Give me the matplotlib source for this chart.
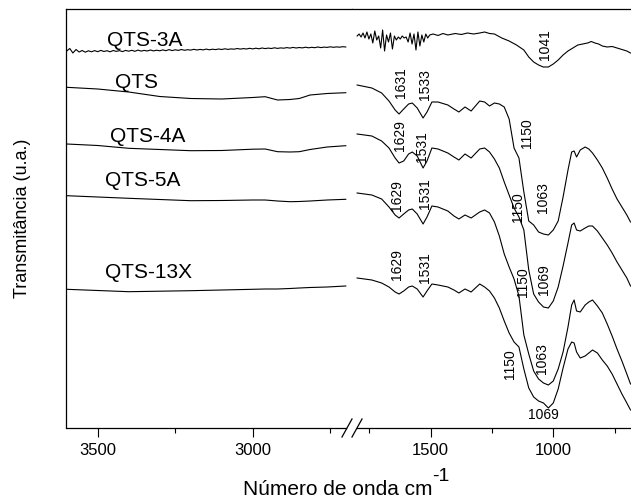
import numpy as np
import matplotlib
matplotlib.use("Agg")
import matplotlib.pyplot as plt
from matplotlib.lines import Line2D

plt.rcParams['font.family'] = ['Liberation Sans', 'DejaVu Sans']

# ---- high wavenumber part (3600-2700 cm-1), transmittance in u.a.
wn_hi = [3600, 3500, 3400, 3300, 3200, 3100, 3000, 2960, 2920, 2880, 2850, 2815, 2760, 2700]
qts_hi = [340.7, 339, 336, 331.5, 329.5, 329, 330.5, 331.3, 328, 328.5, 329.5, 333, 334.5, 335.3]
qts4a_hi = [284, 282.5, 279.7, 278.5, 277.3, 277.5, 278.8, 279, 276.3, 276, 276.3, 278.5, 281, 282.3]
qts5a_hi = [232.3, 231, 229.7, 228.5, 227.3, 227.5, 228, 228, 227, 226.3, 226.5, 227, 228, 228.7]
qts13x_hi = [138.7, 137.5, 136.3, 136.8, 137.3, 138, 138.7, 139, 139, 139.5, 140, 140.5, 141, 142]

wn_3a_hi = np.arange(3600, 2699, -10)
qts3a_hi = [377, 379.5, 375, 378.5, 376, 377.5, 375.8, 377.2, 376.2, 377.4,
            376.3, 377.6, 376.5, 377.3, 376.2, 377.5, 376.6, 377.4, 376.4, 377.6,
            376.8, 377.7, 376.7, 377.9, 376.9, 377.6, 377.0, 378.0, 377.1, 377.8,
            377.2, 378.1, 377.3, 378.4, 377.4, 378.2, 377.6, 378.5, 377.7, 378.3,
            377.9, 378.7, 378.0, 378.6, 378.1, 378.9, 378.2, 378.8, 378.4, 379.0,
            378.5, 379.2, 378.6, 379.1, 378.8, 379.5, 378.9, 379.4, 379.0, 379.7,
            379.1, 379.8, 379.2, 380.0, 379.4, 379.9, 379.5, 380.2, 379.6, 380.1,
            379.8, 380.4, 379.9, 380.6, 380.0, 380.5, 380.1, 380.8, 380.2, 380.7,
            380.3, 381.0, 380.4, 380.9, 380.6, 381.2, 380.7, 381.1, 380.8, 381.3,
            381.0]

# ---- low wavenumber part (1800-685 cm-1)
wn_lo = [1800, 1740, 1700, 1670, 1645, 1629, 1610, 1590, 1575, 1555, 1531, 1515, 1495,
         1470, 1430, 1405, 1385, 1360, 1335, 1300, 1280, 1260, 1240, 1220, 1200, 1180,
         1160, 1140, 1120, 1100, 1080, 1060, 1040, 1020, 1000, 980, 960, 940, 925, 915,
         905, 890, 870, 855, 840, 820, 800, 780, 760, 740, 720, 700, 685]
qts_lo = [343, 340, 335, 327, 318, 314, 319, 324, 325, 320, 310, 316, 326, 326, 323, 319,
          316, 321, 317, 327, 326, 322, 325, 324, 321, 309, 280, 270, 236, 207, 203, 196,
          194, 193, 198, 207, 231, 258, 276, 277, 271, 278, 281, 279, 275, 268, 260, 250,
          239, 229, 221, 213, 206]
qts4a_lo = [294, 292, 287, 280, 270, 265, 267, 274, 276, 272, 260, 267, 280, 279, 275, 271,
            268, 274, 270, 279, 280, 276, 269, 260, 246, 233, 220, 211, 198, 158, 134, 126,
            121, 120, 127, 141, 162, 185, 203, 205, 198, 197, 200, 202, 202, 197, 190, 183,
            175, 166, 158, 150, 142]
qts5a_lo = [235, 233, 229, 221, 213, 210, 214, 218, 219, 214, 204, 211, 222, 221, 217, 212,
            209, 213, 210, 216, 218, 215, 206, 192, 174, 161, 149, 132, 93, 74, 57, 49, 45,
            43, 47, 59, 76, 101, 123, 128, 117, 116, 123, 126, 128, 122, 115, 104, 92, 79,
            67, 54, 44]
qts13x_lo = [150, 148, 145, 141, 136, 134, 137, 141, 142, 139, 131, 137, 144, 143, 141, 138,
             135, 139, 136, 144, 141, 137, 130, 120, 107, 95, 86, 81, 59, 40, 31, 27, 25,
             20, 25, 39, 60, 79, 86, 85, 76, 70, 72, 75, 78, 75, 68, 62, 54, 44, 34, 25, 18]

wn_3a_lo = list(range(1800, 1503, -8)) + [
    1490, 1470, 1450, 1430, 1400, 1375, 1350, 1325, 1300, 1280, 1260, 1240, 1210, 1180,
    1150, 1120, 1100, 1080, 1060, 1041, 1020, 1000, 980, 960, 940, 920, 900, 880, 860,
    845, 830, 815, 800, 780, 760, 740, 720, 700, 685]
qts3a_lo = [392, 394, 391, 395, 390, 396, 389, 394, 385, 397, 388, 392, 380, 398, 377, 393,
            386, 395, 379, 392, 388, 391, 389, 392, 390, 391, 386, 395, 384, 394, 378, 396,
            382, 393, 386, 394, 390, 393,
            394, 392.5, 394.5, 393, 394.5, 393.5, 395, 394, 395, 396, 394.5, 394, 390, 387,
            383, 378, 371, 366, 363, 361, 361, 364, 368, 373, 377, 380, 383, 384, 385,
            386.5, 385, 384, 382, 381, 381.5, 380, 378.5, 377, 375]

names = ["QTS-3A", "QTS", "QTS-4A", "QTS-5A", "QTS-13X"]
name_pos = [(3471, 387), (3444, 345), (3460, 291), (3476, 248), (3476, 155)]

# peak labels (text, wavenumber, height, rotation)
peaks = [("1041", 1034, 383, 90), ("1631", 1621, 345, 90), ("1533", 1523, 343, 90),
         ("1150", 1109, 295, 90), ("1629", 1625, 292, 90), ("1531", 1535, 281, 90),
         ("1629", 1637, 232, 90), ("1531", 1523, 234, 90), ("1150", 1143, 221, 90),
         ("1063", 1041, 230, 90), ("1629", 1637, 163, 90), ("1531", 1523, 160, 90),
         ("1150", 1122, 146, 90), ("1069", 1038, 148, 90), ("1150", 1177, 64, 90),
         ("1063", 1047, 69, 90), ("1069", 1041, 13, 0)]

fig = plt.figure(figsize=(6.31, 5.0), dpi=100)
ax1 = fig.add_axes([0.1052, 0.144, 0.4526, 0.838])
ax2 = fig.add_axes([0.5578, 0.144, 0.4422, 0.838])

lw = 0.8
ax1.plot(wn_3a_hi, qts3a_hi, color='black', lw=lw)
ax1.plot(wn_hi, qts_hi, color='black', lw=lw)
ax1.plot(wn_hi, qts4a_hi, color='black', lw=lw)
ax1.plot(wn_hi, qts5a_hi, color='black', lw=lw)
ax1.plot(wn_hi, qts13x_hi, color='black', lw=lw)

ax2.plot(wn_3a_lo, qts3a_lo, color='black', lw=lw)
ax2.plot(wn_lo, qts_lo, color='black', lw=lw)
ax2.plot(wn_lo, qts4a_lo, color='black', lw=lw)
ax2.plot(wn_lo, qts5a_lo, color='black', lw=lw)
ax2.plot(wn_lo, qts13x_lo, color='black', lw=lw)

for nm, (x, y) in zip(names, name_pos):
    ax1.text(x, y, nm, fontsize=15, ha='left', va='center')

for txt, x, y, rot in peaks:
    ax2.text(x, y, txt, fontsize=10, rotation=rot, ha='center', va='center')

ax1.set_xlim(3601, 2680)
ax2.set_xlim(1821, 683)
for ax in (ax1, ax2):
    ax.set_ylim(0, 419)
    ax.set_yticks([])
    ax.spines['right'].set_visible(False)
    ax.tick_params(axis='x', which='major', direction='out', length=6.5, width=0.8,
                   labelsize=12, pad=4)
    ax.tick_params(axis='x', which='minor', direction='out', length=3.5, width=0.8)
    for s in ax.spines.values():
        s.set_linewidth(0.9)
ax2.spines['left'].set_visible(False)
ax1.spines['bottom'].set_bounds(3600, 2700)
ax2.spines['bottom'].set_bounds(1800, 683)

ax1.set_xticks([3500, 3000])
ax1.set_xticks([3250, 2750], minor=True)
ax2.set_xticks([1500, 1000])
ax2.set_xticks([1750, 1250, 750], minor=True)

# break marks on the x axis
W, H = 631.0, 500.0
for x0 in (342, 352):
    fig.add_artist(Line2D([x0 / W, (x0 + 10) / W], [1 - 437 / H, 1 - 419 / H],
                          color='black', lw=0.9))

fig.text(243 / W, 0.010, "Número de onda cm", fontsize=15, ha='left', va='baseline')
fig.text(432 / W, 0.038, "-1", fontsize=14, ha='left', va='baseline')
fig.text(0.035, 0.563, "Transmitância (u.a.)", fontsize=13, rotation=90,
         ha='center', va='center')

fig.savefig("out.png", dpi=100)
